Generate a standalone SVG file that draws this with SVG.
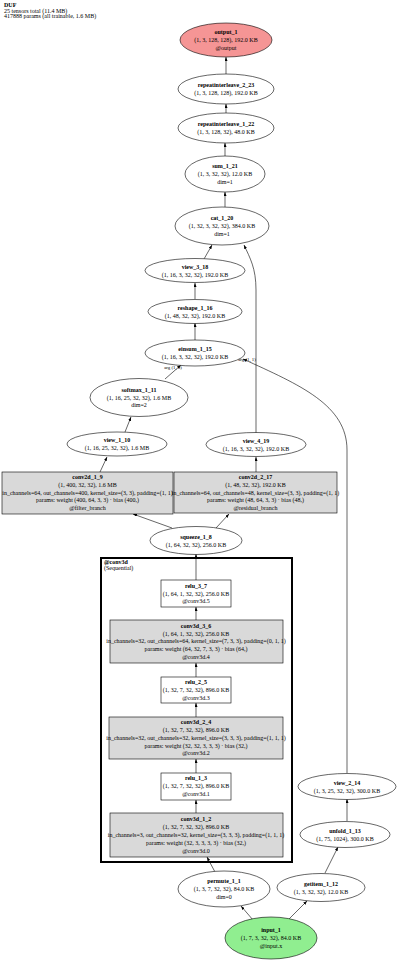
<svg xmlns="http://www.w3.org/2000/svg" width="400" height="961" viewBox="0 0 400 961">
<style>
text{font-family:"Liberation Serif","DejaVu Serif",serif;font-size:6px;fill:#000;text-anchor:middle}
.b{font-weight:bold}
.h{text-anchor:start}
.lbl{font-size:4.8px}
ellipse,rect.n{stroke:#000;stroke-width:0.6}
.w{fill:#fff}
.g{fill:#d9d9d9}
.e{stroke:#000;stroke-width:0.6;fill:none;marker-end:url(#ah)}
</style>
<defs>
<marker id="ah" markerUnits="userSpaceOnUse" markerWidth="4" markerHeight="3" refX="4" refY="1.5" orient="auto">
<path d="M0,0 L4,1.5 L0,3 z" fill="#000"/>
</marker>
</defs>
<rect x="0" y="0" width="400" height="961" fill="#fff"/>
<g id="header">
<text class="h b" x="4" y="7">DUF</text>
<text class="h" x="4" y="12.7">25 tensors total (11.4 MB)</text>
<text class="h" x="4" y="18.2">417888 params (all trainable, 1.6 MB)</text>
</g>
<g id="cluster_conv3d">
<rect x="101" y="558" width="191" height="304" fill="none" stroke="#000" stroke-width="2"/>
<text class="h b" x="104" y="564">@conv3d</text>
<text class="h" x="104" y="569.5">(Sequential)</text>
</g>
<g id="edges">
<line class="e" x1="226" y1="74" x2="226" y2="57"/>
<line class="e" x1="226" y1="113" x2="226" y2="104"/>
<line class="e" x1="225" y1="156" x2="225" y2="143"/>
<line class="e" x1="225" y1="207" x2="225" y2="192"/>
<line class="e" x1="204" y1="259" x2="212" y2="245"/>
<path class="e" d="M256,433 L256,290 C256,268 250,258 244,245"/>
<line class="e" x1="195" y1="299" x2="195" y2="283"/>
<line class="e" x1="195" y1="340" x2="195" y2="323"/>
<line class="e" x1="165" y1="379" x2="181" y2="365"/>
<path class="e" d="M347,773 L347,450 C347,405 300,385 243,359"/>
<line class="e" x1="125" y1="432" x2="131" y2="417"/>
<line class="e" x1="100" y1="472" x2="107" y2="457"/>
<line class="e" x1="256" y1="472" x2="256" y2="457"/>
<line class="e" x1="172" y1="528" x2="133" y2="514"/>
<line class="e" x1="216" y1="528" x2="229" y2="514"/>
<line class="e" x1="196" y1="580" x2="196" y2="554"/>
<line class="e" x1="196" y1="620" x2="196" y2="607"/>
<line class="e" x1="196" y1="677" x2="196" y2="663"/>
<line class="e" x1="196" y1="717" x2="196" y2="703"/>
<line class="e" x1="196" y1="773" x2="196" y2="759"/>
<line class="e" x1="196" y1="813" x2="196" y2="800"/>
<line class="e" x1="215" y1="872" x2="207" y2="857"/>
<line class="e" x1="253" y1="920" x2="241" y2="906"/>
<line class="e" x1="288" y1="920" x2="307" y2="901"/>
<line class="e" x1="325" y1="873" x2="338" y2="847"/>
<line class="e" x1="347" y1="821" x2="347" y2="799"/>
<text class="lbl" x="173" y="369">arg (1, 0)</text>
<text class="lbl" x="247" y="361">arg (1, 1)</text>
</g>
<g id="output_1">
<ellipse cx="226" cy="40" rx="46" ry="17" fill="#f59595"/>
<text class="b" x="226" y="34.2">output_1</text>
<text x="226" y="42">(1, 3, 128, 128), 192.0 KB</text>
<text x="226" y="49.8">@output</text>
</g>
<g id="repeatinterleave_2_23">
<ellipse class="w" cx="226" cy="89" rx="48" ry="15"/>
<text class="b" x="226" y="87">repeatinterleave_2_23</text>
<text x="226" y="95">(1, 3, 128, 128), 192.0 KB</text>
</g>
<g id="repeatinterleave_1_22">
<ellipse class="w" cx="226" cy="128" rx="48" ry="15"/>
<text class="b" x="226" y="126">repeatinterleave_1_22</text>
<text x="226" y="134">(1, 3, 128, 32), 48.0 KB</text>
</g>
<g id="sum_1_21">
<ellipse class="w" cx="225" cy="174" rx="40" ry="18"/>
<text class="b" x="225" y="168">sum_1_21</text>
<text x="225" y="175.8">(1, 3, 32, 32), 12.0 KB</text>
<text x="225" y="183.6">dim=1</text>
</g>
<g id="cat_1_20">
<ellipse class="w" cx="222" cy="226" rx="47" ry="19"/>
<text class="b" x="222" y="220.2">cat_1_20</text>
<text x="222" y="228">(1, 32, 3, 32, 32), 384.0 KB</text>
<text x="222" y="235.8">dim=1</text>
</g>
<g id="view_3_18">
<ellipse class="w" cx="195" cy="270.5" rx="50" ry="12"/>
<text class="b" x="195" y="268.5">view_3_18</text>
<text x="195" y="276.5">(1, 16, 3, 32, 32), 192.0 KB</text>
</g>
<g id="reshape_1_16">
<ellipse class="w" cx="195" cy="311.5" rx="47" ry="12"/>
<text class="b" x="195" y="309.5">reshape_1_16</text>
<text x="195" y="317.5">(1, 48, 32, 32), 192.0 KB</text>
</g>
<g id="einsum_1_15">
<ellipse class="w" cx="195" cy="353" rx="50" ry="13"/>
<text class="b" x="195" y="351">einsum_1_15</text>
<text x="195" y="359">(1, 16, 3, 32, 32), 192.0 KB</text>
</g>
<g id="softmax_1_11">
<ellipse class="w" cx="139" cy="397.5" rx="49" ry="19"/>
<text class="b" x="139" y="391.7">softmax_1_11</text>
<text x="139" y="399.5">(1, 16, 25, 32, 32), 1.6 MB</text>
<text x="139" y="407.3">dim=2</text>
</g>
<g id="view_1_10">
<ellipse class="w" cx="117" cy="444" rx="50" ry="12"/>
<text class="b" x="117" y="442">view_1_10</text>
<text x="117" y="450">(1, 16, 25, 32, 32), 1.6 MB</text>
</g>
<g id="view_4_19">
<ellipse class="w" cx="256" cy="444.5" rx="50" ry="12"/>
<text class="b" x="256" y="442.5">view_4_19</text>
<text x="256" y="450.5">(1, 16, 3, 32, 32), 192.0 KB</text>
</g>
<g id="conv2d_1_9">
<rect class="n g" x="2" y="472" width="171" height="42"/>
<text class="b" x="87.5" y="479">conv2d_1_9</text>
<text x="87.5" y="486.8">(1, 400, 32, 32), 1.6 MB</text>
<text x="87.5" y="494.6">in_channels=64, out_channels=400, kernel_size=(3, 3), padding=(1, 1)</text>
<text x="87.5" y="502.4">params: weight (400, 64, 3, 3) · bias (400,)</text>
<text x="87.5" y="510.2">@filter_branch</text>
</g>
<g id="conv2d_2_17">
<rect class="n g" x="174" y="472" width="163" height="41"/>
<text class="b" x="255.5" y="479">conv2d_2_17</text>
<text x="255.5" y="486.8">(1, 48, 32, 32), 192.0 KB</text>
<text x="255.5" y="494.6">in_channels=64, out_channels=48, kernel_size=(3, 3), padding=(1, 1)</text>
<text x="255.5" y="502.4">params: weight (48, 64, 3, 3) · bias (48,)</text>
<text x="255.5" y="510.2">@residual_branch</text>
</g>
<g id="squeeze_1_8">
<ellipse class="w" cx="196" cy="540.5" rx="46" ry="14"/>
<text class="b" x="196" y="538.5">squeeze_1_8</text>
<text x="196" y="546.5">(1, 64, 32, 32), 256.0 KB</text>
</g>
<g id="relu_3_7">
<rect class="n w" x="161" y="580" width="70" height="27"/>
<text class="b" x="196" y="587.7">relu_3_7</text>
<text x="196" y="595.5">(1, 64, 1, 32, 32), 256.0 KB</text>
<text x="196" y="603.3">@conv3d.5</text>
</g>
<g id="conv3d_3_6">
<rect class="n g" x="110" y="620" width="173" height="43"/>
<text class="b" x="196" y="627.7">conv3d_3_6</text>
<text x="196" y="635.5">(1, 64, 1, 32, 32), 256.0 KB</text>
<text x="196" y="643.3">in_channels=32, out_channels=64, kernel_size=(7, 3, 3), padding=(0, 1, 1)</text>
<text x="196" y="651.1">params: weight (64, 32, 7, 3, 3) · bias (64,)</text>
<text x="196" y="658.9">@conv3d.4</text>
</g>
<g id="relu_2_5">
<rect class="n w" x="161" y="677" width="70" height="26"/>
<text class="b" x="196" y="684.2">relu_2_5</text>
<text x="196" y="692">(1, 32, 7, 32, 32), 896.0 KB</text>
<text x="196" y="699.8">@conv3d.3</text>
</g>
<g id="conv3d_2_4">
<rect class="n g" x="109" y="717" width="174" height="42"/>
<text class="b" x="196" y="724.2">conv3d_2_4</text>
<text x="196" y="732">(1, 32, 7, 32, 32), 896.0 KB</text>
<text x="196" y="739.8">in_channels=32, out_channels=32, kernel_size=(3, 3, 3), padding=(1, 1, 1)</text>
<text x="196" y="747.6">params: weight (32, 32, 3, 3, 3) · bias (32,)</text>
<text x="196" y="755.4">@conv3d.2</text>
</g>
<g id="relu_1_3">
<rect class="n w" x="161" y="773" width="70" height="27"/>
<text class="b" x="196" y="780.2">relu_1_3</text>
<text x="196" y="788">(1, 32, 7, 32, 32), 896.0 KB</text>
<text x="196" y="795.8">@conv3d.1</text>
</g>
<g id="conv3d_1_2">
<rect class="n g" x="110" y="813" width="173" height="44"/>
<text class="b" x="196" y="821.4">conv3d_1_2</text>
<text x="196" y="829.2">(1, 32, 7, 32, 32), 896.0 KB</text>
<text x="196" y="837">in_channels=3, out_channels=32, kernel_size=(3, 3, 3), padding=(1, 1, 1)</text>
<text x="196" y="844.8">params: weight (32, 3, 3, 3, 3) · bias (32,)</text>
<text x="196" y="852.6">@conv3d.0</text>
</g>
<g id="view_2_14">
<ellipse class="w" cx="347" cy="786.5" rx="49" ry="13"/>
<text class="b" x="347" y="784.5">view_2_14</text>
<text x="347" y="792.5">(1, 3, 25, 32, 32), 300.0 KB</text>
</g>
<g id="unfold_1_13">
<ellipse class="w" cx="345" cy="834.5" rx="45" ry="13"/>
<text class="b" x="345" y="832.5">unfold_1_13</text>
<text x="345" y="840.5">(1, 75, 1024), 300.0 KB</text>
</g>
<g id="permute_1_1">
<ellipse class="w" cx="224" cy="889" rx="46" ry="18"/>
<text class="b" x="224" y="883.2">permute_1_1</text>
<text x="224" y="891">(1, 3, 7, 32, 32), 84.0 KB</text>
<text x="224" y="898.8">dim=0</text>
</g>
<g id="getitem_1_12">
<ellipse class="w" cx="321" cy="887.5" rx="44" ry="14"/>
<text class="b" x="321" y="885.5">getitem_1_12</text>
<text x="321" y="893.5">(1, 3, 32, 32), 12.0 KB</text>
</g>
<g id="input_1">
<ellipse cx="271" cy="938" rx="46" ry="21" fill="#90ee90"/>
<text class="b" x="271" y="932.2">input_1</text>
<text x="271" y="940">(1, 7, 3, 32, 32), 84.0 KB</text>
<text x="271" y="947.8">@input.x</text>
</g>
</svg>
